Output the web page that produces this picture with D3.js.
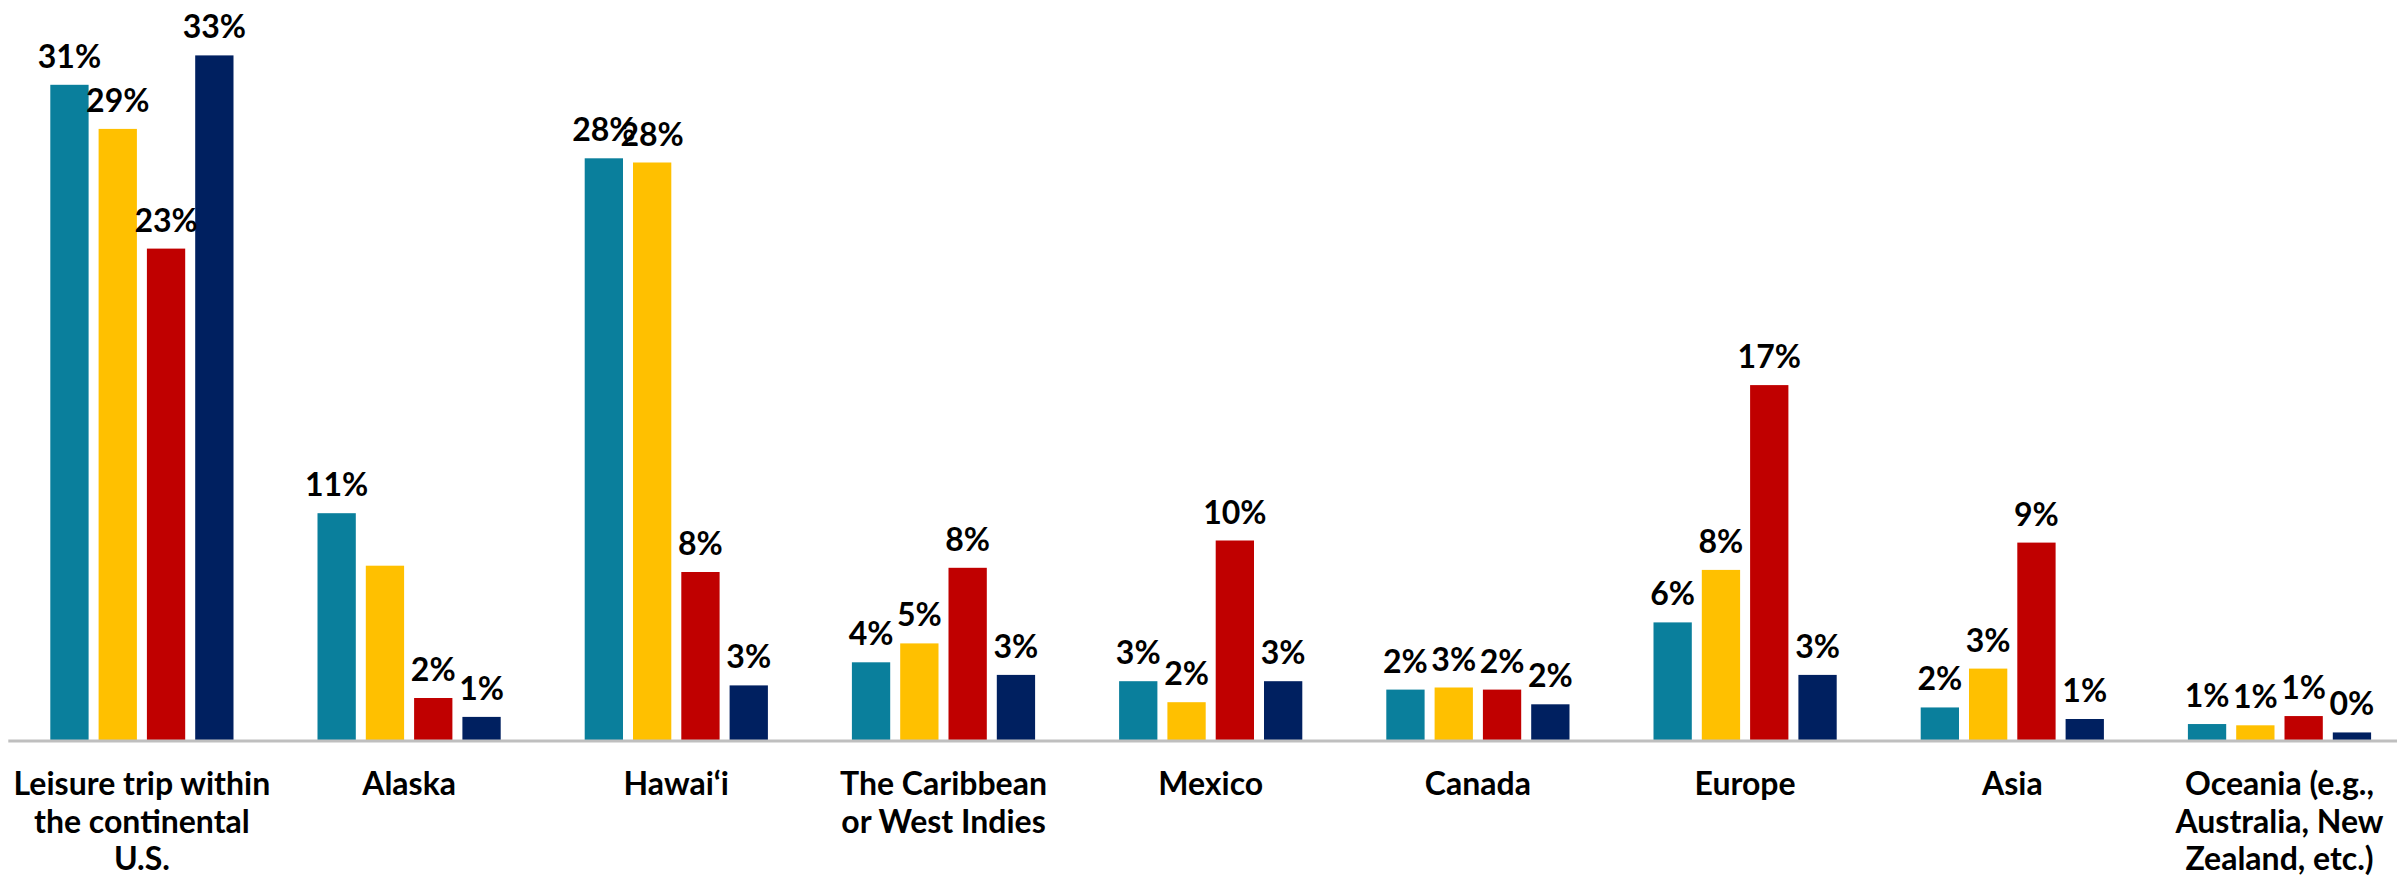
<!DOCTYPE html>
<html>
<head>
<meta charset="utf-8">
<script src="https://cdn.jsdelivr.net/npm/d3@7"></script>
<style>
  html, body { margin: 0; padding: 0; background: #ffffff; }
  svg { display: block; }
  text { font-family: Lato, "DejaVu Sans", sans-serif; font-weight: 700; fill: #000; }
</style>
</head>
<body>
<script>
// ---- data ----
const categories = [
  "Leisure trip within the continental U.S.",
  "Alaska",
  "Hawai‘i",
  "The Caribbean or West Indies",
  "Mexico",
  "Canada",
  "Europe",
  "Asia",
  "Oceania (e.g., Australia, New Zealand, etc.)"
];
const categoryLines = [
  ["Leisure trip within", "the continental", "U.S."],
  ["Alaska"],
  ["Hawai‘i"],
  ["The Caribbean", "or West Indies"],
  ["Mexico"],
  ["Canada"],
  ["Europe"],
  ["Asia"],
  ["Oceania (e.g.,", "Australia, New", "Zealand, etc.)"]
];
const seriesNames = ["Series 1", "Series 2", "Series 3", "Series 4"];
const series1 = [31.2, 10.8, 27.7, 3.7, 2.8, 2.4, 5.6, 1.55, 0.76];
const series2 = [29.1, 8.3, 27.5, 4.6, 1.8, 2.5, 8.1, 3.4, 0.7];
const series3 = [23.4, 2.0, 8.0, 8.2, 9.5, 2.4, 16.9, 9.4, 1.14];
const series4 = [32.6, 1.1, 2.6, 3.1, 2.8, 1.7, 3.1, 1.0, 0.36];
const labels1 = ["31%", "11%", "28%", "4%", "3%", "2%", "6%", "2%", "1%"];
const labels2 = ["29%", "", "28%", "5%", "2%", "3%", "8%", "3%", "1%"];
const labels3 = ["23%", "2%", "8%", "8%", "10%", "2%", "17%", "9%", "1%"];
const labels4 = ["33%", "1%", "3%", "3%", "3%", "2%", "3%", "1%", "0%"];
const colors = ["#0A7F9C", "#FFC000", "#C00000", "#002060"];

// ---- layout ----
const W = 2397, H = 876;
const baseY = 740;
const pxPerPct = 21;
const left = 8.3, band = 267.2;
const barStep = 48.3, barGap = 10;

const values = [series1, series2, series3, series4];
const labelSets = [labels1, labels2, labels3, labels4];
const rows = categories.map((c, i) => ({
  cat: c, i,
  bars: values.map((s, k) => ({ k, v: s[i], label: labelSets[k][i] }))
}));

const svg = d3.select("body").append("svg").attr("width", W).attr("height", H);

const x0 = d3.scaleBand().domain(categories).range([left, left + band * categories.length]).padding(0);
const x1 = d3.scaleBand().domain(d3.range(4))
  .range([-barStep * 2, barStep * 2])
  .paddingInner(barGap / barStep).paddingOuter(barGap / barStep / 2);
const y = d3.scaleLinear().domain([0, 35]).range([baseY, baseY - 35 * pxPerPct]);

const g = svg.selectAll("g.grp").data(rows).join("g")
  .attr("class", "grp")
  .attr("transform", d => `translate(${x0(d.cat) + x0.bandwidth() / 2},0)`);

g.selectAll("rect").data(d => d.bars).join("rect")
  .attr("x", d => x1(d.k))
  .attr("width", x1.bandwidth())
  .attr("y", d => y(d.v))
  .attr("height", d => y(0) - y(d.v))
  .attr("fill", d => colors[d.k]);

g.selectAll("text.val").data(d => d.bars.filter(b => b.label !== "")).join("text")
  .attr("class", "val")
  .attr("x", d => x1(d.k) + x1.bandwidth() / 2)
  .attr("y", d => y(d.v) - 17)
  .attr("text-anchor", "middle")
  .attr("font-size", 32)
  .text(d => d.label);

// axis line
svg.append("line")
  .attr("x1", left).attr("x2", W)
  .attr("y1", baseY + 1).attr("y2", baseY + 1)
  .attr("stroke", "#bfbfbf").attr("stroke-width", 3);

// category labels
const cl = svg.selectAll("text.cat").data(rows).join("text")
  .attr("class", "cat")
  .attr("text-anchor", "middle")
  .attr("font-size", 32)
  .attr("y", 795);
cl.selectAll("tspan").data(d => categoryLines[d.i].map(t => ({ t, c: d.cat }))).join("tspan")
  .attr("x", d => x0(d.c) + x0.bandwidth() / 2)
  .attr("dy", (d, j) => j === 0 ? 0 : 37.5)
  .text(d => d.t);
</script>
</body>
</html>
